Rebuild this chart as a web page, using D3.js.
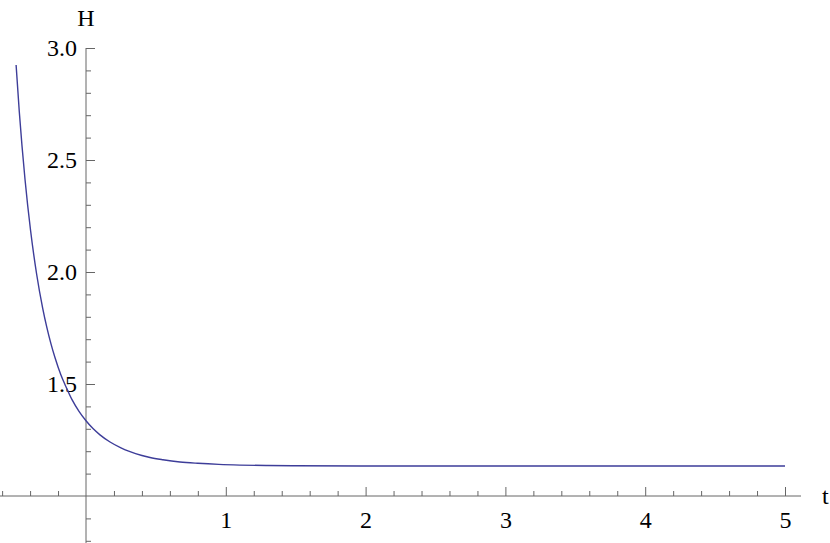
<!DOCTYPE html>
<html>
<head>
<meta charset="utf-8">
<script src="https://cdn.jsdelivr.net/npm/d3@7"></script>
<style>
  html, body { margin:0; padding:0; background:#fff; }
  svg { display:block; }
</style>
</head>
<body>
<div id="chart"></div>
<script>
// curve H(t)
const T = [-0.50,-0.477,-0.436,-0.396,-0.353,-0.31,-0.281,-0.25,-0.222,-0.18,-0.145,-0.10,-0.05,0,0.05,0.10,0.172,0.25,0.315,0.40,0.458,0.55,0.672,0.80,0.95,1.1,1.3,1.5,2,2.5,3,3.5,4,4.5,5];
const H = [2.924,2.714,2.412,2.183,1.990,1.839,1.755,1.678,1.618,1.541,1.490,1.430,1.378,1.336,1.301,1.273,1.241,1.215,1.198,1.181,1.172,1.162,1.152,1.146,1.141,1.138,1.136,1.135,1.134,1.134,1.134,1.134,1.134,1.134,1.134];

const X_MAJOR = [1,2,3,4,5];
const X_MINOR = [-0.6,-0.4,-0.2,0.2,0.4,0.6,0.8,1.2,1.4,1.6,1.8,2.2,2.4,2.6,2.8,3.2,3.4,3.6,3.8,4.2,4.4,4.6,4.8];
const Y_MAJOR = [1.5,2.0,2.5,3.0];
const Y_MINOR = [0.8,0.9,1.1,1.2,1.3,1.4,1.6,1.7,1.8,1.9,2.1,2.2,2.3,2.4,2.6,2.7,2.8,2.9];

const FONT = "'Liberation Serif','Times New Roman',Times,serif";
const AXC = "#666";

const W = 830, Hh = 543;
const svg = d3.select("#chart").append("svg").attr("width",W).attr("height",Hh);

const x = d3.scaleLinear().domain([0,5]).range([86,785]);
const y = d3.scaleLinear().domain([1,3]).range([496,48]);

function style(g) {
  g.select(".domain").remove();
  g.attr("font-family",FONT).attr("font-size",24);
  g.selectAll("line").attr("stroke",AXC);
  g.selectAll("text").attr("fill","#000");
}

// x axis
const gx = svg.append("g").attr("transform",`translate(0,${y(1)})`);
gx.append("line").attr("x1",0).attr("x2",801).attr("stroke",AXC);
gx.append("g").call(d3.axisBottom(x).tickValues(X_MINOR).tickSizeInner(-5).tickSizeOuter(0).tickFormat("")).call(style);
gx.append("g").call(d3.axisBottom(x).tickValues(X_MAJOR).tickSizeInner(-9).tickSizeOuter(0).tickPadding(15).tickFormat(d3.format("d"))).call(style);
gx.append("text").attr("x",822).attr("y",8).attr("font-family",FONT).attr("font-size",24).text("t");

// y axis
const gy = svg.append("g").attr("transform",`translate(${x(0)},0)`);
gy.append("line").attr("y1",y(3)).attr("y2",Hh).attr("stroke",AXC);
gy.append("g").call(d3.axisLeft(y).tickValues(Y_MINOR).tickSizeInner(-5).tickSizeOuter(0).tickFormat("")).call(style);
gy.append("g").call(d3.axisLeft(y).tickValues(Y_MAJOR).tickSizeInner(-9).tickSizeOuter(0).tickPadding(9).tickFormat(d3.format(".1f"))).call(style);
gy.append("text").attr("y",26).attr("text-anchor","middle").attr("font-family",FONT).attr("font-size",24).text("H");

// curve
const line = d3.line().x((d,i)=>x(T[i])).y(d=>y(d)).curve(d3.curveMonotoneX);
svg.append("path").datum(H)
  .attr("fill","none").attr("stroke","#3d3d99").attr("stroke-width",1.4)
  .attr("d",line);
</script>
</body>
</html>
